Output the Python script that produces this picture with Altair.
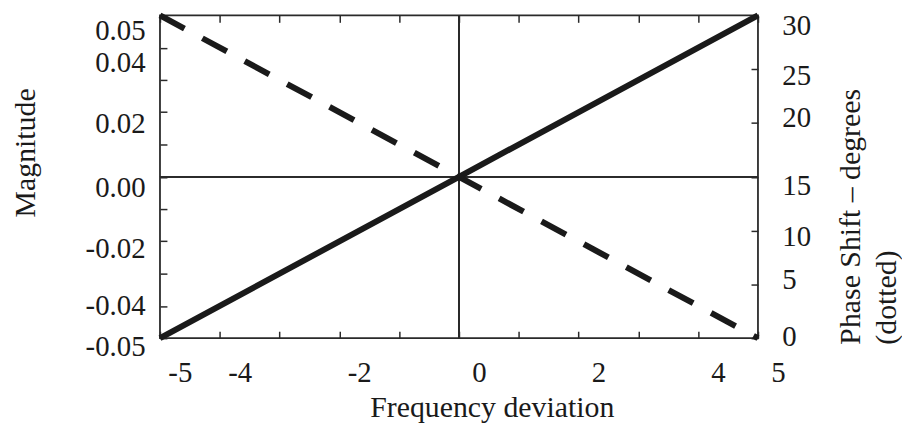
import altair as alt
import pandas as pd

# ---- data ----
freq = [-5, 0, 5]
magnitude = [-0.05, 0.0, 0.05]
phase = [30, 15, 0]

x_ticks = [-5, -4, -3, -2, -1, 0, 1, 2, 3, 4, 5]
x_labels = [-5, -4, -2, 0, 2, 4, 5]
mag_ticks = [-0.05, -0.04, -0.03, -0.02, -0.01, 0.0, 0.01, 0.02, 0.03, 0.04, 0.05]
mag_labels = [-0.05, -0.04, -0.02, 0.0, 0.02, 0.04, 0.05]
phase_ticks = [0, 5, 10, 15, 20, 25, 30]

df = pd.DataFrame({"freq": freq, "magnitude": magnitude, "phase": phase})

FONT = "Liberation Serif"
INK = "#1a1a1a"
GUIDE = "#2a2a2a"
W, H = 602, 325
TICK = {"expr": "-7"}

x_scale = alt.Scale(domain=[-5, 5], nice=False, zero=False)
mag_scale = alt.Scale(domain=[-0.05, 0.05], nice=False, zero=False)
phase_scale = alt.Scale(domain=[0, 30], nice=False, zero=False)

x_lab_list = ",".join(str(v) for v in x_labels)
x_label_expr = (
    f"indexof([{x_lab_list}], datum.value) >= 0 ? "
    "((datum.value < 0 ? '-' : '') + abs(datum.value)) : ''"
)
mag_lab_list = ",".join(str(int(round(v * 100))) for v in mag_labels)
mag_label_expr = (
    f"indexof([{mag_lab_list}], round(datum.value * 100)) >= 0 ? "
    "((datum.value < -1e-9 ? '-' : '') + format(abs(datum.value), '.2f')) : ''"
)

common_axis = dict(
    labelFont=FONT, labelFontSize=29, labelColor=INK,
    titleFont=FONT, titleFontSize=30, titleFontWeight="normal", titleColor=INK,
    tickColor=GUIDE, tickWidth=1.5, grid=False, domain=False,
    labelFlush=False, labelOverlap=False,
)

x_bottom = alt.Axis(
    orient="bottom", values=x_ticks, labelExpr=x_label_expr,
    tickSize=TICK, labelPadding=28, labelOffset=20,
    title="Frequency deviation", titleAngle=0, titleAlign="center",
    titleBaseline="alphabetic", titleX=334, titleY=79, **common_axis,
)
y_left = alt.Axis(
    orient="left", values=mag_ticks, labelExpr=mag_label_expr,
    tickSize=TICK, labelPadding=22,
    labelOffset={"condition": [
        {"test": "datum.value > 0.035", "value": 15},
        {"test": "datum.value > -0.005", "value": 11},
        {"test": "datum.value > -0.025", "value": 7},
        {"test": "datum.value > -0.045", "value": 0},
    ], "value": 8},
    title="Magnitude", titleAngle=270, titleAlign="center",
    titleBaseline="alphabetic", titleX=-126, titleY=138, **common_axis,
)
x_top = alt.Axis(
    orient="top", values=x_ticks, labels=False, tickSize=TICK, title=None,
    **common_axis,
)
y_right = alt.Axis(
    orient="right", values=phase_ticks, format="d", tickSize=TICK, labelPadding=31,
    labelOffset={"condition": [
        {"test": "datum.value == 30", "value": 10},
        {"test": "datum.value == 25", "value": 6},
        {"test": "datum.value == 20", "value": -5},
        {"test": "datum.value == 15", "value": 9},
        {"test": "datum.value == 10", "value": 6},
        {"test": "datum.value == 5", "value": -5},
    ], "value": -2},
    title=["Phase Shift \u2013 degrees", "(dotted)"], titleAngle=270,
    titleAlign="left", titleBaseline="alphabetic", titleLineHeight=36,
    titleX=102, titleY=331, **common_axis,
)

base = alt.Chart(df)

solid = base.mark_line(color=INK, strokeWidth=6, strokeCap="butt").encode(
    x=alt.X("freq:Q", scale=x_scale, axis=x_bottom),
    y=alt.Y("magnitude:Q", scale=mag_scale, axis=y_left),
)
dashed = base.mark_line(color=INK, strokeWidth=6, strokeDash=[28, 20.5],
                        strokeCap="butt").encode(
    x=alt.X("freq:Q", scale=x_scale, axis=x_top),
    y=alt.Y("phase:Q", scale=phase_scale, axis=y_right),
)
h_zero = base.mark_rule(color=GUIDE, strokeWidth=1.8).encode(
    y=alt.Y(datum=0, scale=mag_scale, axis=None),
)
v_zero = base.mark_rule(color=GUIDE, strokeWidth=1.8).encode(
    x=alt.X(datum=0, scale=x_scale, axis=None),
)

chart = (
    alt.layer(h_zero, v_zero, solid, dashed)
    .resolve_scale(y="independent")
    .resolve_axis(x="independent", y="independent")
    .properties(
        width=W, height=H,
        autosize=alt.AutoSizeParams(type="none"),
        padding={"left": 153, "top": 6, "right": 145, "bottom": 90},
        background="white",
    )
    .configure_view(stroke=GUIDE, strokeWidth=1.8)
)

chart.save("out.html", embed_options={"renderer": "svg", "actions": False})
